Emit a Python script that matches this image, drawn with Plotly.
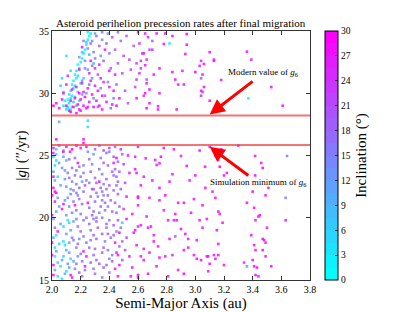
import plotly.graph_objects as go

# ---- data: (semi-major axis [au], |g| ["/yr], inclination [deg]) ----
upper_cyan_streak = [
    (2.10,28.7,3),(2.11,28.9,2),(2.12,29.2,4),(2.11,29.5,1),(2.13,29.6,3),(2.12,29.9,5),(2.14,29.8,2),
    (2.13,30.2,4),(2.15,30.4,1),(2.14,30.7,3),(2.16,30.6,6),(2.15,31.0,2),(2.17,31.2,4),(2.16,31.5,1),
    (2.18,31.4,3),(2.17,31.8,2),(2.19,32.0,5),(2.18,32.3,1),(2.20,32.5,3),(2.21,32.8,2),(2.22,33.2,4),
    (2.23,33.5,1),(2.24,33.9,3),(2.25,34.3,2),(2.26,34.6,1),(2.27,34.8,4),(2.25,34.9,2),(2.24,34.1,6),
    (2.21,33.3,8),(2.19,32.9,9),(2.10,33.0,4),(2.13,31.8,5),(2.08,30.1,3),(2.09,29.4,2),(2.08,29.0,4),
    (2.11,28.8,1),(2.14,28.9,6),(2.15,29.3,8),(2.13,28.7,2),(2.17,29.0,7),(2.16,29.7,10),(2.18,30.1,8),
    (2.20,30.8,9),(2.22,31.2,7),(2.23,32.6,12),(2.26,33.1,10),(2.07,31.2,4),(2.06,30.6,6),(2.28,34.2,14),
    (2.30,34.8,11),(2.21,29.9,9),(2.19,29.4,4),(2.25,31.9,13),(2.34,33.0,12),(2.29,32.4,10),(2.82,34.0,3),
    (3.37,29.6,2),
]
upper_magenta_cluster = [
    (2.07,29.5,28),(2.08,30.0,27),(2.10,29.0,29),(2.12,28.6,28),(2.13,29.4,30),(2.14,30.3,27),(2.15,28.9,29),
    (2.16,29.6,28),(2.17,30.5,26),(2.18,29.1,30),(2.19,28.7,28),(2.19,30.0,27),(2.20,29.5,29),(2.21,30.8,25),
    (2.22,29.0,28),(2.22,30.1,27),(2.23,29.7,30),(2.24,28.8,29),(2.25,30.4,26),(2.26,29.3,28),(2.27,31.0,25),
    (2.28,29.9,27),(2.29,28.9,29),(2.30,30.6,26),(2.31,29.4,28),(2.32,30.2,27),(2.33,29.0,30),(2.34,31.2,24),
    (2.35,29.8,27),(2.36,30.9,26),(2.38,29.3,28),(2.40,30.5,26),(2.42,29.1,29),(2.13,28.5,29),(2.17,28.4,27),
    (2.20,28.6,26),(2.10,30.7,27),(2.03,29.2,28),(2.01,29.0,30),(2.05,28.8,29),(2.11,31.4,25),(2.26,31.6,24),
    (2.30,32.0,26),(2.27,32.6,27),(2.33,32.3,25),(2.21,33.7,28),(2.19,31.9,26),(2.37,33.5,27),(2.40,31.8,28),
    (2.43,30.2,27),(2.45,29.0,29),(2.44,31.5,26),(2.35,28.7,28),(2.47,29.6,28),(2.25,28.9,27),
]
upper_violet_scatter = [
    (2.22,34.2,16),(2.25,33.6,14),(2.27,34.0,18),(2.29,33.3,15),(2.31,34.6,17),(2.33,33.8,19),(2.35,34.3,14),
    (2.30,32.8,16),(2.32,31.5,20),(2.28,31.2,13),(2.26,30.7,17),(2.34,30.4,15),(2.36,32.6,18),(2.38,34.0,20),
    (2.40,33.2,16),(2.41,32.0,19),(2.39,30.9,14),(2.42,34.5,21),(2.44,33.5,18),(2.46,32.4,20),(2.48,34.2,17),
    (2.45,30.7,19),(2.43,29.6,16),(2.37,29.8,18),(2.29,29.6,15),(2.24,30.0,13),(2.23,32.0,14),(2.21,31.0,12),
    (2.50,33.0,21),(2.52,34.6,19),(2.49,31.6,22),(2.51,30.2,20),(2.53,29.2,18),(2.55,31.9,22),(2.57,33.8,20),
    (2.54,32.7,23),(2.60,34.9,21),(2.62,32.0,22),(2.58,30.5,21),(2.64,29.8,23),(2.66,31.1,20),(2.68,33.5,22),
    (2.70,34.2,19),(2.35,34.9,15),(2.39,34.8,13),(2.46,34.9,17),(2.28,32.2,16),(2.32,28.9,19),(2.41,28.8,20),
]
upper_outer_sparse = [
    (2.65,34.8,27),(2.73,34.8,28),(2.79,34.8,26),(2.94,34.76,29),(2.84,34.6,27),(2.67,34.5,24),(2.61,34.0,26),
    (2.78,33.96,28),(2.94,33.9,27),(2.70,33.5,25),(2.63,33.2,22),(2.64,33.2,27),(2.93,33.15,28),(3.10,33.3,29),
    (2.66,32.7,26),(2.62,32.6,23),(3.13,32.6,28),(3.06,32.35,27),(2.59,32.4,21),(3.03,32.2,26),(2.65,32.25,27),
    (2.75,32.0,28),(2.91,31.8,26),(3.00,31.7,29),(2.84,31.7,27),(2.61,31.6,25),(2.71,31.5,28),(3.04,31.2,20),
    (2.59,31.1,23),(2.86,31.1,27),(2.66,30.8,26),(2.88,30.7,28),(2.92,30.7,27),(2.68,30.3,29),(3.04,30.2,27),
    (2.75,30.0,26),(2.65,30.0,28),(3.04,29.8,25),(2.59,29.6,27),(2.68,29.2,28),(2.74,28.95,26),(2.66,28.8,29),
    (2.74,28.7,27),(2.87,28.7,28),(3.10,29.4,27),(3.17,28.87,29),(3.18,31.06,28),(3.36,33.34,27),(3.39,32.7,28),
    (3.53,30.5,27),(3.61,29.0,28),(3.04,32.6,26),(3.05,31.5,28),(3.06,30.5,27),(3.05,30.1,26),(3.13,32.7,26),
]
between_lines = [
    (2.05,27.7,10),(2.25,27.8,3),(2.25,27.3,4),(2.03,26.3,28),(2.22,26.3,28),(2.22,26.0,27),
]
lower_top_row = [
    (2.01,25.6,25),(2.03,25.5,5),(2.05,25.8,20),(2.08,25.4,8),(2.10,25.7,28),(2.14,25.5,29),(2.17,25.8,27),
    (2.20,25.6,26),(2.24,25.7,27),(2.30,25.5,18),(2.33,25.8,16),(2.36,25.4,21),(2.40,25.6,22),(2.44,25.7,19),
    (2.48,25.5,24),(2.60,25.7,27),(2.78,25.6,28),(3.10,25.7,28),(3.18,25.5,28),(3.30,25.8,29),(2.85,25.5,27),
    (3.03,25.4,28),(3.14,25.0,27),(3.16,25.3,28),
]
lower_inner_a = [
    (2.009,25.2,28),(2.079,25.3,27),(2.126,25.3,29),(2.25,25.3,12),(2.29,25.1,11),(2.38,25.2,17),(2.40,25.3,16),
    (2.49,25.1,18),(2.45,24.8,27),(2.53,25.0,28),(2.03,24.6,4),(2.02,24.2,3),(2.10,24.6,10),(2.18,24.4,28),
    (2.22,24.2,16),(2.39,24.2,17),(2.43,24.4,26),(2.58,23.9,28),(2.01,23.7,11),(2.11,23.6,15),(2.16,23.4,17),
    (2.22,23.6,16),(2.42,23.7,18),(2.43,23.4,17),(2.45,23.3,19),(2.54,23.6,27),(2.02,23.0,10),(2.09,23.1,12),
    (2.14,22.9,16),(2.17,22.7,17),(2.21,22.9,12),(2.24,23.0,15),(2.31,22.8,18),(2.33,22.9,27),(2.36,22.7,16),
    (2.45,22.6,17),(2.46,22.9,19),(2.02,22.1,28),(2.03,22.0,29),(2.13,22.3,11),(2.15,22.2,16),(2.17,22.0,15),
    (2.22,22.1,17),(2.29,22.3,18),(2.31,22.0,16),(2.35,22.1,17),(2.39,21.8,19),(2.46,21.9,18),(2.52,21.7,27),
    (2.60,21.7,28),(2.04,21.6,11),(2.11,21.6,12),(2.15,21.3,17),(2.19,21.5,16),(2.25,21.2,27),(2.35,21.4,15),
    (2.37,21.2,18),(2.08,21.1,28),(2.03,20.5,10),(2.14,20.4,16),(2.17,20.6,17),(2.29,20.5,18),(2.33,20.4,16),
    (2.37,20.6,17),(2.42,20.5,19),(2.45,20.4,18),(2.01,19.9,11),(2.11,19.8,4),(2.12,19.6,5),(2.15,19.7,11),
    (2.22,19.8,17),(2.29,19.9,16),(2.31,19.7,18),(2.40,19.8,17),(2.49,19.6,6),(2.52,19.9,27),(2.58,19.0,28),
    (2.02,19.2,16),(2.04,18.9,28),(2.13,19.0,11),(2.18,19.3,17),(2.27,19.0,16),(2.32,19.2,18),(2.38,19.2,17),
    (2.39,18.7,19),(2.45,18.9,16),(2.47,18.8,27),(2.01,18.4,10),(2.08,18.1,4),(2.12,18.0,11),(2.15,18.2,16),
    (2.19,18.3,12),(2.24,18.0,17),(2.31,18.3,18),(2.37,18.1,16),(2.44,18.0,27),(2.49,18.1,19),(2.02,17.6,3),
    (2.03,17.3,11),(2.10,17.4,10),(2.17,17.6,16),(2.22,17.3,28),(2.30,17.5,17),(2.35,17.2,18),(2.39,17.4,16),
    (2.45,17.2,27),(2.51,17.4,20),(2.02,16.9,4),(2.07,16.6,10),(2.13,16.7,5),(2.15,16.5,11),(2.18,16.9,12),
    (2.21,16.5,17),(2.31,16.6,18),(2.40,16.7,16),(2.46,17.0,28),(2.54,16.9,27),(2.01,16.2,28),(2.06,16.1,3),
    (2.12,16.0,11),(2.16,15.9,16),(2.23,16.1,27),(2.29,15.9,17),(2.36,16.0,18),(2.47,16.2,28),(2.01,15.4,29),
    (2.04,15.3,4),(2.09,15.5,10),(2.13,15.4,28),(2.21,15.3,17),(2.35,15.2,16),(2.46,15.3,27),(2.55,15.3,28),
    (2.60,15.4,29),
]
lower_inner_b = [
    (2.01,24.9,5),(2.03,25.1,2),(2.05,24.4,9),(2.07,24.0,12),(2.04,23.3,3),(2.06,22.6,10),(2.01,22.4,27),
    (2.00,21.8,29),(2.02,21.3,26),(2.05,20.9,12),(2.00,20.2,28),(2.06,19.5,9),(2.03,18.6,2),(2.05,17.9,6),
    (2.00,17.0,27),(2.04,16.4,5),(2.02,15.8,10),(2.07,15.1,3),(2.00,18.0,28),(2.01,23.3,27),(2.08,24.9,11),
    (2.12,24.7,15),(2.14,24.0,16),(2.09,23.8,13),(2.12,23.2,17),(2.10,22.5,12),(2.13,21.9,16),(2.09,21.4,11),
    (2.12,20.9,15),(2.10,20.2,13),(2.08,19.3,5),(2.10,18.7,12),(2.14,18.4,15),(2.09,17.8,4),(2.12,17.2,13),
    (2.08,16.9,6),(2.11,16.3,12),(2.10,15.7,4),(2.14,15.2,27),(2.07,20.7,27),(2.16,24.8,17),(2.19,24.1,16),
    (2.17,23.8,18),(2.20,23.3,15),(2.19,22.4,17),(2.23,22.6,18),(2.18,21.8,16),(2.21,21.1,17),(2.20,20.3,16),
    (2.24,20.0,18),(2.17,19.9,15),(2.20,18.9,17),(2.22,18.5,16),(2.18,17.9,17),(2.20,17.1,15),(2.17,16.3,16),
    (2.19,15.6,18),(2.23,15.8,17),(2.24,16.9,27),(2.16,21.0,28),(2.26,24.7,17),(2.28,24.3,16),(2.27,23.7,18),
    (2.30,23.2,17),(2.26,22.8,16),(2.28,22.3,19),(2.27,21.7,17),(2.30,21.3,18),(2.32,21.7,16),(2.26,20.8,17),
    (2.28,20.2,18),(2.31,20.0,16),(2.26,19.5,17),(2.29,18.6,18),(2.27,18.2,16),(2.26,17.6,17),(2.29,17.0,19),
    (2.27,16.4,18),(2.30,15.5,17),(2.33,16.3,18),(2.34,24.8,16),(2.36,24.4,18),(2.33,23.9,17),(2.35,23.5,16),
    (2.38,23.1,18),(2.34,22.4,19),(2.38,22.3,17),(2.40,22.6,18),(2.36,21.8,16),(2.41,21.4,17),(2.34,20.9,18),
    (2.39,20.9,16),(2.35,20.0,17),(2.38,19.5,18),(2.35,18.7,19),(2.41,18.4,17),(2.36,17.6,18),(2.42,17.0,16),
    (2.38,16.2,18),(2.40,15.6,17),(2.43,24.9,18),(2.46,24.5,17),(2.44,23.9,19),(2.47,23.7,18),(2.43,22.2,17),
    (2.48,22.3,19),(2.44,21.2,18),(2.47,20.9,17),(2.43,19.4,18),(2.46,19.8,19),(2.48,19.2,16),(2.43,18.6,17),
    (2.47,17.7,18),(2.42,16.5,18),(2.44,15.9,27),(2.49,16.6,20),(2.50,24.3,22),(2.51,22.8,21),(2.50,20.7,23),
    (2.52,18.4,22),
]
lower_middle = [
    (2.654,24.77,28),(2.72,24.64,27),(2.76,24.9,29),(2.73,24.24,26),(2.90,24.96,28),(2.75,24.37,27),(2.94,24.16,29),
    (2.84,23.5,28),(2.59,23.6,27),(2.64,23.3,26),(3.00,23.4,28),(3.07,22.4,27),(2.75,22.4,28),(2.79,21.8,29),
    (2.60,21.6,27),(2.68,21.6,26),(2.75,21.4,28),(2.88,21.2,27),(2.92,21.2,29),(2.99,21.5,28),(2.60,21.0,26),
    (2.86,20.3,27),(2.85,19.8,28),(2.87,19.8,29),(2.81,19.8,27),(3.03,19.8,28),(2.62,19.4,27),(2.60,19.3,26),
    (2.67,19.2,28),(2.69,19.3,29),(2.93,18.7,27),(2.71,18.6,28),(2.82,18.3,27),(2.86,18.5,20),(2.95,18.3,28),
    (2.71,18.1,29),(3.01,18.2,27),(2.74,17.7,28),(2.95,17.6,27),(2.92,17.4,29),(2.59,17.8,28),(2.64,17.5,26),
    (2.68,17.2,28),(2.79,16.9,27),(2.75,16.8,29),(2.62,16.9,28),(2.64,16.6,27),(2.84,17.0,26),(2.99,17.0,28),
    (3.01,16.7,27),(2.73,16.1,28),(2.88,15.8,27),(2.92,15.5,29),(2.67,15.5,28),(2.81,15.3,27),(2.60,15.2,29),
    (2.58,24.9,27),(2.62,22.6,28),(2.56,20.3,27),(2.57,18.8,26),(2.56,16.0,28),(2.96,23.0,27),(2.82,22.9,28),
    (2.70,23.0,29),(2.97,20.4,27),(3.05,21.0,28),(2.78,20.6,26),(2.90,19.1,28),(2.66,20.1,27),
]
lower_outer = [
    (3.068,24.1,28),(3.16,24.64,27),(3.17,24.1,29),(3.20,23.4,28),(3.22,23.6,27),(3.417,24.96,28),(3.46,24.4,27),
    (3.47,24.0,29),(3.417,23.4,28),(3.51,22.4,27),(3.49,21.8,28),(3.40,22.1,29),(3.36,21.2,27),(3.41,20.8,28),
    (3.44,20.1,27),(3.45,20.2,29),(3.42,19.8,28),(3.50,19.2,27),(3.64,24.96,15),(3.63,21.6,15),(3.63,19.8,28),
    (3.12,22.1,27),(3.14,21.6,28),(3.16,20.5,29),(3.17,20.3,27),(3.19,19.6,28),(3.08,19.9,27),(3.05,19.2,28),
    (3.15,19.0,29),(3.16,17.9,28),(3.08,16.9,27),(3.13,17.0,28),(3.20,16.2,27),(3.10,16.3,29),(3.09,15.7,28),
    (3.39,18.6,28),(3.41,17.8,27),(3.42,17.4,29),(3.40,16.6,28),(3.41,16.1,27),(3.43,16.0,29),(3.42,15.4,28),
    (3.44,15.3,27),(3.47,18.3,28),(3.48,18.2,29),(3.49,18.0,27),(3.47,17.4,28),(3.49,16.9,27),(3.53,16.1,28),
    (3.34,16.4,24),(3.36,16.1,12),(3.04,16.6,28),(3.09,16.9,29),(3.16,17.0,28),(3.14,16.7,27),
]

groups = [upper_cyan_streak, upper_magenta_cluster, upper_violet_scatter, upper_outer_sparse,
          between_lines, lower_top_row, lower_inner_a, lower_inner_b, lower_middle, lower_outer]

g6_modern = 28.22          # "/yr
g6_sim_min = 25.85         # "/yr
x_ticks = [2.0, 2.2, 2.4, 2.6, 2.8, 3.0, 3.2, 3.4, 3.6, 3.8]
y_ticks = [15, 20, 25, 30, 35]
cbar_ticks = [0, 3, 6, 9, 12, 15, 18, 21, 24, 27, 30]

a_vals, g_vals, i_vals = [], [], []
for grp in groups:
    for a, g, i in grp:
        a_vals.append(a); g_vals.append(g); i_vals.append(i)

FONT = "Liberation Serif, Times New Roman, serif"

# banded "cool" colour map (cyan -> magenta), 20 levels like the reference colour bar
n_bands = 20
cool = []
for k in range(n_bands):
    t = k / (n_bands - 1)
    col = f"rgb({round(255 * t)},{round(255 * (1 - t))},255)"
    cool.append([k / n_bands, col])
    cool.append([(k + 1) / n_bands, col])

fig = go.Figure()
fig.add_trace(go.Scatter(
    x=a_vals, y=g_vals, mode="markers",
    marker=dict(symbol="square", size=2.6, color=i_vals, cmin=0, cmax=30, colorscale=cool,
                line=dict(width=0), opacity=0.85,
                colorbar=dict(
                    x=1.058, xanchor="left", xpad=0, y=0.5, yanchor="middle", ypad=0,
                    thicknessmode="pixels", thickness=13, lenmode="pixels", len=249,
                    outlinewidth=1, outlinecolor="black",
                    tickvals=cbar_ticks, ticks="inside", ticklen=3, tickcolor="#333",
                    tickfont=dict(family=FONT, size=9.5, color="black"),
                    title=dict(text="Inclination (°)", side="right",
                               font=dict(family=FONT, size=15, color="black")),
                )),
    showlegend=False, hoverinfo="skip",
))

for yv in (g6_modern, g6_sim_min):
    fig.add_shape(type="line", xref="paper", x0=0, x1=1, yref="y", y0=yv, y1=yv,
                  line=dict(color="rgba(240,70,70,0.75)", width=2))

# arrows
fig.add_annotation(x=3.10, y=28.3, ax=3.41, ay=31.05, xref="x", yref="y", axref="x", ayref="y",
                   text="", showarrow=True, arrowhead=2, arrowsize=1, arrowwidth=3, arrowcolor="red")
fig.add_annotation(x=3.10, y=25.7, ax=3.38, ay=23.3, xref="x", yref="y", axref="x", ayref="y",
                   text="", showarrow=True, arrowhead=2, arrowsize=1, arrowwidth=3, arrowcolor="red")
fig.add_annotation(x=3.475, y=31.7, xref="x", yref="y", showarrow=False,
                   text="Modern value of <i>g</i><sub>6</sub>",
                   font=dict(family=FONT, size=9, color="black"))
fig.add_annotation(x=3.44, y=22.8, xref="x", yref="y", showarrow=False,
                   text="Simulation minimum of <i>g</i><sub>6</sub>",
                   font=dict(family=FONT, size=9, color="black"))
fig.add_annotation(x=0.5, y=1, xref="paper", yref="paper", yanchor="bottom", yshift=0, showarrow=False,
                   text="Asteroid perihelion precession rates after final migration",
                   font=dict(family=FONT, size=11, color="black"))

axis_common = dict(showline=True, linecolor="#333", linewidth=1, mirror="allticks", ticks="inside",
                   ticklen=4, tickcolor="#333", showgrid=False, zeroline=False, automargin=False,
                   tickfont=dict(family=FONT, size=10, color="black"))
fig.update_xaxes(range=[2.0, 3.8], tickvals=x_ticks, ticktext=[f"{v:.1f}" for v in x_ticks],
                 title=dict(text="Semi-Major Axis (au)", standoff=2,
                            font=dict(family=FONT, size=15, color="black")),
                 **axis_common)
fig.update_yaxes(range=[15, 35], tickvals=y_ticks,
                 title=dict(text="|<i>g</i>| (″/yr)", standoff=8,
                            font=dict(family=FONT, size=15, color="black")),
                 **axis_common)

fig.update_layout(width=415, height=312, margin=dict(l=52, r=105, t=31, b=32),
                  paper_bgcolor="white", plot_bgcolor="white",
                  font=dict(family=FONT, color="black"))
fig.write_html("out.html", config={"displayModeBar": False},
               post_script="document.body.style.margin='0px';document.body.style.padding='0px';")
